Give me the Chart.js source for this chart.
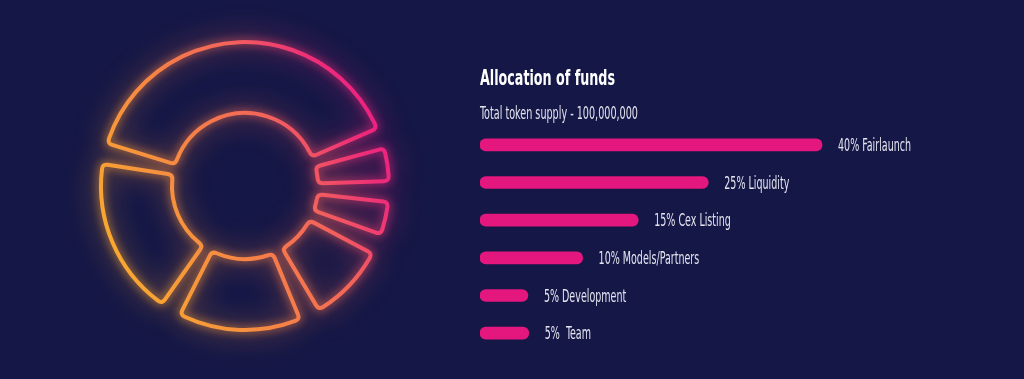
<!DOCTYPE html>
<html>
<head>
<meta charset="utf-8">
<script src="https://cdn.jsdelivr.net/npm/chart.js@4.4.1/dist/chart.umd.min.js"></script>
<style>
  html, body { margin: 0; padding: 0; background: #151746; overflow: hidden; }
  #wrap { position: relative; width: 1024px; height: 379px; background: #151746; }
  canvas { position: absolute; left: 0; top: 0; }
</style>
</head>
<body>
<div id="wrap">
  <canvas id="donut" width="1024" height="379"></canvas>
  <canvas id="bars" width="1024" height="379"></canvas>
</div>
<script>
// ---- data ----
const categories = ["Fairlaunch", "Liquidity", "Cex Listing", "Models/Partners", "Development", " Team"];
const percentages = [40, 25, 15, 10, 5, 5];
// bar lengths as drawn in the picture (in % units)
const barValues = [40, 26.7, 18.5, 12.0, 5.6, 5.7];
// doughnut slices clockwise as drawn in the picture
const donutCategories = ["Fairlaunch", "Team", "Development", "Models/Partners", "Cex Listing", "Liquidity"];
const donutShares = [41, 6, 6, 11, 16, 20];
const titleText = "Allocation of funds";
const subtitleText = "Total token supply - 100,000,000";

const FONT = '"DejaVu Sans Condensed", "Liberation Sans Narrow", sans-serif';

// ---- neon doughnut ----
function roundedArcPath(x, y, r0, r1, s, e, c) {
  const P = (r, a) => [x + r * Math.cos(a), y + r * Math.sin(a)];
  const path = new Path2D();
  const co = c / r1, ci = c / r0;
  let p = P(r1 - c, s); path.moveTo(p[0], p[1]);
  let q = P(r1, s); p = P(r1, s + co); path.quadraticCurveTo(q[0], q[1], p[0], p[1]);
  path.arc(x, y, r1, s + co, e - co, false);
  q = P(r1, e); p = P(r1 - c, e); path.quadraticCurveTo(q[0], q[1], p[0], p[1]);
  p = P(r0 + c, e); path.lineTo(p[0], p[1]);
  q = P(r0, e); p = P(r0, e - ci); path.quadraticCurveTo(q[0], q[1], p[0], p[1]);
  path.arc(x, y, r0, e - ci, s + ci, true);
  q = P(r0, s); p = P(r0 + c, s); path.quadraticCurveTo(q[0], q[1], p[0], p[1]);
  path.closePath();
  return path;
}

const neonPlugin = {
  id: 'neon',
  afterDatasetsDraw(chart) {
    const ctx = chart.ctx;
    const meta = chart.getDatasetMeta(0);
    const grad = ctx.createLinearGradient(100, 262, 392, 110);
    grad.addColorStop(0, '#f9ad2e');
    grad.addColorStop(0.35, '#f68a42');
    grad.addColorStop(0.65, '#f3645a');
    grad.addColorStop(0.85, '#ee2f78');
    grad.addColorStop(1, '#ea1a84');
    const gap = 4.2 * Math.PI / 180;
    const paths = meta.data.map(arc => {
      const p = arc.getProps(['x','y','startAngle','endAngle','innerRadius','outerRadius'], true);
      return roundedArcPath(p.x, p.y, p.innerRadius, p.outerRadius, p.startAngle + gap, p.endAngle - gap, 5);
    });
    const passes = [
      {blur: 14, w: 14, a: 0.3},
      {blur: 4, w: 7, a: 0.55},
      {blur: 0, w: 4, a: 1}
    ];
    passes.forEach(ps => {
      ctx.save();
      ctx.filter = ps.blur ? `blur(${ps.blur}px)` : 'none';
      ctx.globalAlpha = ps.a;
      ctx.strokeStyle = grad;
      ctx.lineWidth = ps.w;
      ctx.lineJoin = 'round';
      ctx.lineCap = 'round';
      paths.forEach(pth => ctx.stroke(pth));
      ctx.restore();
    });
  }
};

new Chart(document.getElementById('donut'), {
  type: 'doughnut',
  data: {
    labels: donutCategories,
    datasets: [{
      data: donutShares,
      backgroundColor: 'rgba(0,0,0,0)',
      borderWidth: 0
    }]
  },
  options: {
    responsive: false,
    animation: false,
    rotation: -77,
    cutout: '50.7%',
    layout: { padding: { left: 101, right: 635, top: 42, bottom: 49 } },
    plugins: { legend: { display: false }, tooltip: { enabled: false } }
  },
  plugins: [neonPlugin]
});

// ---- bars ----
const textPlugin = {
  id: 'texts',
  afterDraw(chart) {
    const ctx = chart.ctx;
    const drawScaled = (txt, x, y, font, color, targetW) => {
      ctx.save();
      ctx.font = font;
      ctx.fillStyle = color;
      ctx.textBaseline = 'alphabetic';
      ctx.textAlign = 'left';
      const w = ctx.measureText(txt).width;
      ctx.translate(x, y);
      ctx.scale(targetW / w, 1);
      ctx.fillText(txt, 0, 0);
      ctx.restore();
    };
    drawScaled(titleText, 480, 85, 'bold 21px ' + FONT, '#ffffff', 135);
    drawScaled(subtitleText, 480, 119, '17px ' + FONT, '#e4e4f0', 158);
    const meta = chart.getDatasetMeta(0);
    const LF = '17px ' + FONT;
    ctx.save();
    ctx.font = LF;
    const ref = ctx.measureText(percentages[0] + '% ' + categories[0]).width;
    ctx.restore();
    const sx = 73 / ref;
    meta.data.forEach((bar, i) => {
      const txt = percentages[i] + '% ' + categories[i];
      ctx.save();
      ctx.font = LF;
      const w = ctx.measureText(txt).width;
      ctx.restore();
      drawScaled(txt, bar.x + 16, bar.y + 6, LF, '#e4e4f0', w * sx);
    });
  }
};

new Chart(document.getElementById('bars'), {
  type: 'bar',
  data: {
    labels: categories,
    datasets: [{
      data: barValues,
      backgroundColor: '#e3177d',
      borderRadius: 7,
      borderSkipped: false,
      barThickness: 12
    }]
  },
  options: {
    indexAxis: 'y',
    responsive: false,
    animation: false,
    layout: { padding: { left: 480, right: 31, top: 126, bottom: 27 } },
    scales: {
      x: { display: false, min: 0, max: 60 },
      y: { display: false, offset: true }
    },
    plugins: { legend: { display: false }, tooltip: { enabled: false } }
  },
  plugins: [textPlugin]
});
</script>
</body>
</html>
